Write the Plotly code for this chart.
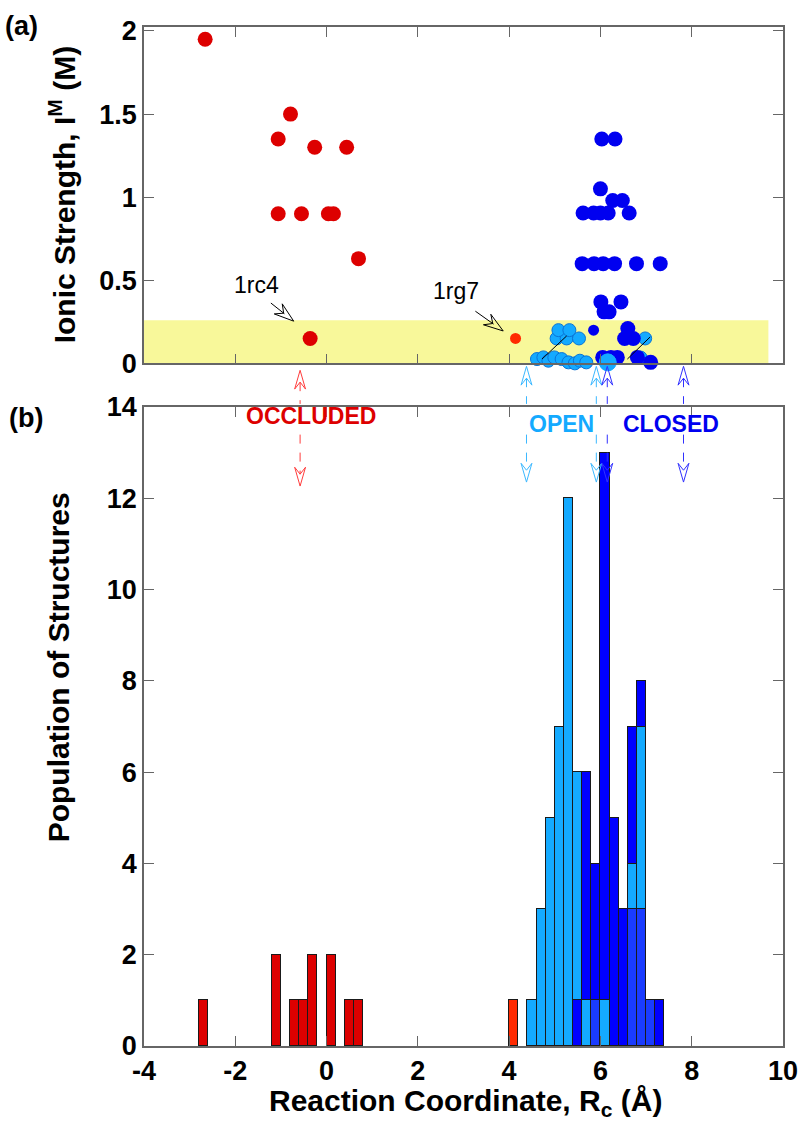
import math
import plotly.graph_objects as go

# ---------------- data : panel (a) ----------------
occl_rc = [-2.66, -0.79, -1.06, -0.26, 0.44, -1.06, -0.55, 0.04, 0.15, 0.70, -0.36]
occl_I = [1.95, 1.50, 1.35, 1.30, 1.30, 0.90, 0.90, 0.90, 0.90, 0.63, 0.15]

rg7_rc = [4.14]
rg7_I = [0.15]

open_rc = [4.61, 4.75, 4.86, 4.99, 5.15, 5.30, 5.44, 5.55, 5.69,
           5.04, 5.26, 5.53, 5.08, 5.32, 6.62, 6.98, 6.88]
open_I = [0.026, 0.036, 0.016, 0.036, 0.026, 0.006, 0.0, 0.016, 0.006,
          0.15, 0.15, 0.15, 0.20, 0.20, 0.16, 0.15, 0.035]

closed_rc = [6.03, 6.32, 6.00, 6.27, 6.48, 5.62, 5.85, 6.00, 6.17, 6.63,
             5.60, 5.86, 6.06, 6.31, 6.79, 7.31, 6.01, 6.45, 6.08, 6.19,
             6.60, 6.53, 6.72, 6.05, 6.23, 6.37, 6.81, 7.10]
closed_I = [1.35, 1.35, 1.05, 0.98, 0.98, 0.905, 0.905, 0.905, 0.905, 0.905,
            0.60, 0.60, 0.60, 0.60, 0.60, 0.60, 0.37, 0.37, 0.31, 0.31,
            0.21, 0.15, 0.15, 0.036, 0.036, 0.036, 0.036, 0.006]

closed_small_rc = [5.85]
closed_small_I = [0.20]

open_big_rc = [6.16]
open_big_I = [0.006]

# thin black guide lines drawn through the low-ionic-strength clusters
guide_rc = [[4.72, 5.26], [6.59, 7.09]]
guide_I = [[0.026, 0.165], [0.026, 0.159]]

# call-out labels: text, text position, arrow tail, arrow tip
callout_text = ["1rc4", "1rg7"]
callout_xy = [(-1.54, 0.47), (2.83, 0.435)]
callout_tail = [(-1.22, 0.363), (3.26, 0.314)]
callout_tip = [(-0.72, 0.254), (3.87, 0.195)]

# ---------------- data : panel (b) ----------------
BIN = 0.2
occl_bin_left = [-2.8, -1.2, -0.8, -0.6, -0.4, 0.0, 0.4, 0.6]
occl_counts = [1, 2, 1, 1, 2, 2, 1, 1]
rg7_bin_left = [4.0]
rg7_counts = [1]

blue_bin_left = [4.4, 4.6, 4.8, 5.0, 5.2, 5.4, 5.6, 5.8, 6.0, 6.2, 6.4, 6.6, 6.8, 7.0, 7.2]
closed_base_counts = [None, None, None, None, None, 1, None, None, None, None, None, None, None, None, None]
closed_low_counts = [None, None, None, None, None, None, None, 1, None, None, None, 3, 3, 1, None]
open_counts = [1, 3, 5, 7, 12, 5, 1, None, 1, None, None, 1, 4, None, None]
closed_counts = [None, None, None, None, None, None, 5, 3, 12, 5, 3, 3, 1, None, 1]

# ---------------- axes / labels ----------------
x_ticks = [-4, -2, 0, 2, 4, 6, 8, 10]
x_tick_text = ["-4", "-2", "0", "2", "4", "6", "8", "10"]
ion_ticks = [0, 0.5, 1, 1.5, 2]
ion_tick_text = ["0", "0.5", "1", "1.5", "2"]
pop_ticks = [0, 2, 4, 6, 8, 10, 12, 14]
pop_tick_text = ["0", "2", "4", "6", "8", "10", "12", "14"]

region_names = ["OCCLUDED", "OPEN", "CLOSED"]
region_label_x = [-0.34, 5.14, 7.55]
region_arrow_x = [[-0.58], [4.38, 5.91], [6.15, 7.82]]

# ---------------- layout constants ----------------
W, H = 810, 1133
ML, MR, MT, MB = 144, 18, 16, 87
PW, PH = W - ML - MR, H - MT - MB
X_RANGE = [-4, 10]
ION_RANGE = [0, 2.024]
POP_RANGE = [0, 14]
TOP_BOTTOM_PX = 356
BOT_TOP_PX = 400
FONT = "Liberation Sans, Arial, sans-serif"

RED = "#dd0000"
ORANGE = "#ff2a00"
LIGHT = "#14aaff"
LIGHT_EDGE = "#0a74d6"
DARK = "#0000f0"
DARK_BAR = "#0000ff"
MID_BAR = "#1a3cff"
AXIS = "#666666"


def py(ypx):
    return (H - MB - ypx) / PH


SX = PW / (X_RANGE[1] - X_RANGE[0])                       # px per x unit
SY_TOP = (TOP_BOTTOM_PX - MT) / (ION_RANGE[1] - ION_RANGE[0])  # px per I unit


def head_path(tx, ty, ux, uy, sx, sy, L=19, Wd=5.5, N=12):
    px_, py_ = -uy, ux
    pts = [(0, 0), (-L * ux + Wd * px_, -L * uy + Wd * py_), (-N * ux, -N * uy),
           (-L * ux - Wd * px_, -L * uy - Wd * py_)]
    coords = [(tx + dx / sx, ty + dy / sy) for dx, dy in pts]
    return "M " + " L ".join(f"{a:.5f},{b:.5f}" for a, b in coords) + " Z"


fig = go.Figure()

# ---------- panel (b) bars ----------
def centers(lefts):
    return [e + BIN / 2 for e in lefts]

bar_line = dict(color="#1a1a1a", width=1)
fig.add_trace(go.Bar(x=centers(occl_bin_left), y=occl_counts, width=BIN,
                     marker=dict(color=RED, line=bar_line), xaxis="x2", yaxis="y2"))
fig.add_trace(go.Bar(x=centers(rg7_bin_left), y=rg7_counts, width=BIN,
                     marker=dict(color=ORANGE, line=bar_line), xaxis="x2", yaxis="y2"))
for counts, col in [(closed_base_counts, DARK_BAR), (closed_low_counts, MID_BAR),
                    (open_counts, LIGHT), (closed_counts, DARK_BAR)]:
    fig.add_trace(go.Bar(x=centers(blue_bin_left), y=counts, width=BIN,
                         marker=dict(color=col, line=bar_line), xaxis="x2", yaxis="y2"))

# ---------- panel (a) scatter ----------
fig.add_trace(go.Scatter(x=occl_rc, y=occl_I, mode="markers", cliponaxis=False,
                         marker=dict(size=15, color=RED), xaxis="x", yaxis="y"))
fig.add_trace(go.Scatter(x=rg7_rc, y=rg7_I, mode="markers", cliponaxis=False,
                         marker=dict(size=11, color=ORANGE), xaxis="x", yaxis="y"))
fig.add_trace(go.Scatter(x=open_rc, y=open_I, mode="markers", cliponaxis=False,
                         marker=dict(size=13, color=LIGHT, line=dict(color=LIGHT_EDGE, width=1)),
                         xaxis="x", yaxis="y"))
fig.add_trace(go.Scatter(x=closed_rc, y=closed_I, mode="markers", cliponaxis=False,
                         marker=dict(size=15, color=DARK), xaxis="x", yaxis="y"))
fig.add_trace(go.Scatter(x=closed_small_rc, y=closed_small_I, mode="markers", cliponaxis=False,
                         marker=dict(size=11, color=DARK), xaxis="x", yaxis="y"))
fig.add_trace(go.Scatter(x=open_big_rc, y=open_big_I, mode="markers", cliponaxis=False,
                         marker=dict(size=17, color=LIGHT, line=dict(color=LIGHT, width=1)),
                         xaxis="x", yaxis="y"))
for gx, gy in zip(guide_rc, guide_I):
    fig.add_trace(go.Scatter(x=gx, y=gy, mode="lines", line=dict(color="black", width=1),
                             xaxis="x", yaxis="y"))

shapes = []
# yellow low-ionic-strength band
shapes.append(dict(type="rect", xref="x", yref="y", x0=-4, x1=9.68, y0=0, y1=0.26,
                   fillcolor="#f8f89a", line=dict(width=0), layer="below"))

annotations = []
# call-outs with open arrowheads
for txt, (tx, ty), (ax, ay), (hx, hy) in zip(callout_text, callout_xy, callout_tail, callout_tip):
    annotations.append(dict(x=tx, y=ty, xref="x", yref="y", text=txt, showarrow=False,
                            font=dict(family=FONT, size=23, color="black")))
    dx, dy = (hx - ax) * SX, (hy - ay) * SY_TOP
    n = math.hypot(dx, dy)
    ux, uy = dx / n, dy / n
    shapes.append(dict(type="line", xref="x", yref="y", x0=ax, y0=ay,
                       x1=hx - 12 * ux / SX, y1=hy - 12 * uy / SY_TOP,
                       line=dict(color="black", width=1)))
    shapes.append(dict(type="path", xref="x", yref="y",
                       path=head_path(hx, hy, ux, uy, SX, SY_TOP, L=20, Wd=6.5, N=13),
                       line=dict(color="black", width=1), fillcolor="rgba(255,255,255,0)"))

# region double arrows between panels
region_cols = [("#ff3c3c", RED), ("#3bb8ff", LIGHT), ("#3030ff", DARK)]
region_tips = [(363, 480), (359, 476), (359, 476)]
region_label_px = [409, 417, 417]
GAP = (397, 428)
for name, lx, xs, (lcol, tcol), (t_px, b_px), lab_px in zip(
        region_names, region_label_x, region_arrow_x, region_cols, region_tips, region_label_px):
    for x in xs:
        shapes.append(dict(type="path", xref="x2", yref="paper",
                           path=head_path(x, py(t_px), 0, 1, SX, PH),
                           line=dict(color=lcol, width=1), fillcolor="rgba(255,255,255,0)"))
        shapes.append(dict(type="path", xref="x2", yref="paper",
                           path=head_path(x, py(b_px), 0, -1, SX, PH),
                           line=dict(color=lcol, width=1), fillcolor="rgba(255,255,255,0)"))
        shapes.append(dict(type="line", xref="x2", yref="paper", x0=x, x1=x,
                           y0=py(t_px + 12), y1=py(GAP[0]),
                           line=dict(color=lcol, width=1, dash="dash")))
        shapes.append(dict(type="line", xref="x2", yref="paper", x0=x, x1=x,
                           y0=py(GAP[1]), y1=py(b_px - 12),
                           line=dict(color=lcol, width=1, dash="dash")))
    annotations.append(dict(x=lx, y=py(lab_px), xref="x2", yref="paper", text=name,
                            showarrow=False, yanchor="middle",
                            font=dict(family=FONT, size=23, color=tcol, weight="bold")))

# axis titles and panel labels
title_font = dict(family=FONT, size=30, color="black", weight="bold")
annotations.append(dict(x=(61 - ML) / PW, y=py(186), xref="paper", yref="paper",
                        text="Ionic Strength, I<sup>M</sup> (M)", textangle=-90, showarrow=False,
                        xanchor="center", yanchor="middle", font=title_font))
annotations.append(dict(x=(57 - ML) / PW, y=py(663), xref="paper", yref="paper",
                        text="Population of Structures", textangle=-90, showarrow=False,
                        xanchor="center", yanchor="middle", font=title_font))
annotations.append(dict(x=(470 - ML) / PW, y=py(1103), xref="paper", yref="paper",
                        text="Reaction Coordinate, R<sub>c</sub> (Å)", showarrow=False,
                        xanchor="center", yanchor="middle", font=title_font))
panel_font = dict(family=FONT, size=27, color="black", weight="bold")
annotations.append(dict(x=(20 - ML) / PW, y=py(15), xref="paper", yref="paper", text="(a)",
                        showarrow=False, xanchor="center", yanchor="middle", font=panel_font))
annotations.append(dict(x=(24 - ML) / PW, y=py(411), xref="paper", yref="paper", text="(b)",
                        showarrow=False, xanchor="center", yanchor="middle", font=panel_font))

axis_common = dict(showline=True, linecolor=AXIS, linewidth=1.5, mirror="ticks",
                   ticks="inside", ticklen=10, tickwidth=1, tickcolor=AXIS,
                   showgrid=False, zeroline=False,
                   tickfont=dict(family=FONT, size=27, color="black", weight="bold"))

fig.update_layout(
    width=W, height=H,
    margin=dict(l=ML, r=MR, t=MT, b=MB),
    paper_bgcolor="white", plot_bgcolor="white",
    showlegend=False, barmode="stack", bargap=0,
    xaxis=dict(axis_common, range=X_RANGE, domain=[0, 1], anchor="y",
               tickmode="array", tickvals=x_ticks, showticklabels=False),
    yaxis=dict(axis_common, range=ION_RANGE, domain=[py(TOP_BOTTOM_PX), 1], anchor="x",
               tickmode="array", tickvals=ion_ticks, ticktext=ion_tick_text),
    xaxis2=dict(axis_common, range=X_RANGE, domain=[0, 1], anchor="y2",
                tickmode="array", tickvals=x_ticks, ticktext=x_tick_text),
    yaxis2=dict(axis_common, range=POP_RANGE, domain=[0, py(BOT_TOP_PX)], anchor="x2",
                tickmode="array", tickvals=pop_ticks, ticktext=pop_tick_text),
    shapes=shapes,
    annotations=annotations,
)

fig.write_html("out.html")
